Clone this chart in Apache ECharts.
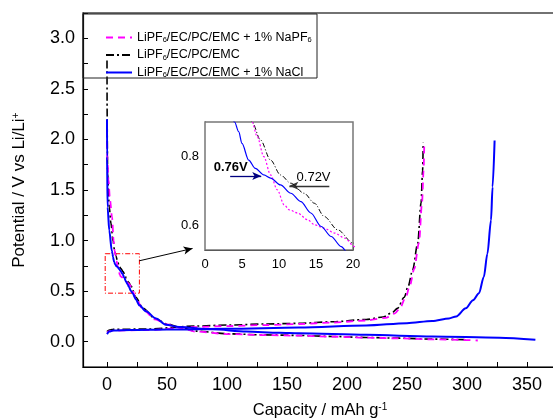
<!DOCTYPE html>
<html><head><meta charset="utf-8">
<script src="https://cdn.jsdelivr.net/npm/echarts@6/dist/echarts.min.js"></script>
<style>html,body{margin:0;padding:0;background:#fff}#c{width:553px;height:418px}</style>
</head><body><div id="c"></div>
<script>
// ---- data ----
const seriesNames = ['LiPF6/EC/PC/EMC + 1% NaPF6', 'LiPF6/EC/PC/EMC', 'LiPF6/EC/PC/EMC + 1% NaCl'];
const xLabelValues = [0, 50, 100, 150, 200, 250, 300, 350];
const xTickValues = [0, 25, 50, 75, 100, 125, 150, 175, 200, 225, 250, 275, 300, 325, 350, 375];
const yLabelValues = [0, 0.5, 1.0, 1.5, 2.0, 2.5, 3.0];
const yTickValues = [-0.25, 0, 0.25, 0.5, 0.75, 1.0, 1.25, 1.5, 1.75, 2.0, 2.25, 2.5, 2.75, 3.0, 3.25];
const insetXLabelValues = [0, 5, 10, 15, 20];
const insetXTickValues = [0, 2.5, 5, 7.5, 10, 12.5, 15, 17.5, 20];
const insetYLabelValues = [0.6, 0.8];
const insetYTickValues = [0.6, 0.7, 0.8];

// discharge (lithiation) curves [capacity, potential]
const pinkDischarge = [[0,2.1],[0.3,1.8],[1.2,1.6],[2.5,1.40],[4.2,1.23],[5.5,1.0],[6.36,0.90],[7.05,0.858],[7.95,0.80],[8.86,0.747],[9.77,0.704],[10.7,0.66],[11.4,0.646],[12.5,0.637],[13.9,0.617],[14.8,0.603],[16.1,0.593],[17.5,0.579],[18.9,0.564],[20.2,0.54],[24,0.43],[30,0.32],[40,0.22],[50,0.17],[60,0.14],[74,0.10],[102,0.075],[130,0.066],[160,0.06],[188,0.05],[216,0.04],[243.6,0.033],[271,0.024],[299,0.017],[309,0.012]];
const blackDischarge = [[0,2.78],[0.1,2.3],[0.3,1.9],[0.5,1.66],[1.9,1.33],[3.3,1.17],[5.0,1.0],[6.36,0.90],[7.5,0.848],[8.86,0.79],[10.2,0.747],[11.6,0.723],[13.4,0.694],[14.8,0.665],[16.1,0.627],[17.95,0.588],[20,0.55],[24,0.44],[30,0.33],[40,0.23],[50,0.175],[60,0.145],[74,0.105],[102,0.078],[130,0.068],[160,0.062],[188,0.052],[216,0.042],[243.6,0.035],[271,0.026],[299,0.02]];
const blueDischarge = [[0,2.2],[0.05,1.83],[0.5,1.33],[1.9,1.10],[4.0,0.90],[4.55,0.872],[5.0,0.838],[5.9,0.79],[6.8,0.766],[7.95,0.747],[8.86,0.738],[10.2,0.718],[11.6,0.694],[12.95,0.67],[14.3,0.637],[15.7,0.598],[17.05,0.569],[18.4,0.54],[19.8,0.505],[21.3,0.48],[24,0.42],[27,0.36],[32.5,0.30],[40.8,0.23],[49,0.168],[60,0.145],[88,0.122],[116,0.10],[143.6,0.088],[160,0.083],[216,0.068],[271,0.052],[327,0.04],[357,0.02]];
// charge (delithiation) curves
const pinkCharge = [[0,0.09],[2,0.105],[5,0.11],[32.5,0.115],[74,0.145],[102,0.155],[132,0.165],[160,0.175],[188,0.19],[216,0.21],[232,0.235],[240,0.28],[244,0.33],[249,0.44],[252.5,0.56],[256,0.72],[260,0.98],[262.5,1.37],[263.8,1.69],[264.4,1.97]];
const blackCharge = [[0,0.10],[2,0.115],[5,0.122],[32.5,0.125],[74,0.155],[102,0.165],[132,0.175],[160,0.182],[188,0.197],[216,0.22],[230,0.245],[238,0.29],[242,0.33],[247.7,0.44],[251,0.55],[254.7,0.71],[258.9,0.97],[261.7,1.37],[263,1.69],[263.5,1.97]];
const blueCharge = [[0,0.075],[2,0.10],[5,0.11],[20,0.115],[50,0.12],[100,0.127],[160,0.14],[216,0.16],[250,0.183],[271,0.205],[285,0.23],[291,0.25],[299,0.33],[305,0.41],[310,0.48],[314,0.64],[317,0.87],[320,1.2],[321.3,1.53],[323,1.99]];

// annotations (data coords)
const zoomBox = [[-1.5, 0.87], [27, 0.48]];
const zoomArrow = [[26.9, 0.80], [71.3, 0.922]];
const arrow076 = [[3.4, 0.744], [7.6, 0.744]];
const arrow072 = [[16.8, 0.7155], [11.4, 0.7155]];
const text076 = [3.48, 0.770];
const text072 = [14.67, 0.7386];

// ---- chart ----
const FONT = 'Liberation Sans, Arial, sans-serif';
const chart = echarts.init(document.getElementById('c'), null, {renderer: 'canvas'});

const pink = '#ff00ff', black = '#000000', blue = '#0000ff';
const mainStyle = {
  [seriesNames[0]]: {color: pink, width: 1.8, type: [7, 5]},
  [seriesNames[1]]: {color: black, width: 1.6, type: [8, 3, 2, 3]},
  [seriesNames[2]]: {color: blue, width: 2, type: 'solid'}
};
const insetStyle = {
  [seriesNames[0]]: {color: pink, width: 1.2, type: [2, 2]},
  [seriesNames[1]]: {color: black, width: 1, type: [5, 2, 1, 2]},
  [seriesNames[2]]: {color: blue, width: 1.2, type: 'solid'}
};

function mainSeries(name, data, extra) {
  return Object.assign({
    type: 'line', name: name, data: data, symbol: 'none', smooth: 0.3, smoothMonotone: 'x',
    xAxisIndex: 0, yAxisIndex: 0, lineStyle: mainStyle[name], itemStyle: {color: mainStyle[name].color},
    animation: false, z: 3
  }, extra || {});
}
function insetSeries(name, data, extra) {
  return Object.assign({
    type: 'line', name: 'inset ' + name, data: data, symbol: 'none', smooth: 0.3, smoothMonotone: 'x',
    xAxisIndex: 1, yAxisIndex: 1, clip: true, lineStyle: insetStyle[name], itemStyle: {color: insetStyle[name].color},
    animation: false, z: 5
  }, extra || {});
}

const axisLabelStyle = {fontFamily: FONT, fontSize: 18, color: '#000'};

const option = {
  animation: false,
  backgroundColor: '#fff',
  grid: [
    {left: 83, top: 13, width: 474, height: 354, show: true, borderColor: '#444', borderWidth: 1.5, outerBoundsMode: 'none', containLabel: false},
    {left: 205, top: 122, width: 148, height: 128, show: true, borderColor: '#777', borderWidth: 1.5, backgroundColor: '#fff', z: 4, outerBoundsMode: 'none', containLabel: false}
  ],
  legend: {
    data: seriesNames,
    orient: 'vertical', left: 105, top: 31, padding: 0,
    itemWidth: 26, itemHeight: 14, itemGap: 4.5,
    itemStyle: {opacity: 0},
    textStyle: {fontFamily: FONT, fontSize: 12.5, color: '#000',
      rich: {s: {fontFamily: FONT, fontSize: 7.5, color: '#000', verticalAlign: 'bottom'}}},
    formatter: function (n) { return n.replace(/PF6/g, 'PF{s|6}'); }
  },
  xAxis: [
    {type: 'value', gridIndex: 0, min: -20, max: 375,
      name: 'Capacity / mAh g{sup|-1}', nameLocation: 'middle', nameGap: 35,
      nameTextStyle: {fontFamily: FONT, fontSize: 16.5, color: '#000', rich: {sup: {fontFamily: FONT, fontSize: 10, color: '#000', verticalAlign: 'top'}}},
      axisLine: {show: true, onZero: false, lineStyle: {color: '#000', width: 1.2}},
      axisTick: {show: true, inside: true, length: 5, customValues: xTickValues, lineStyle: {color: '#000', width: 1}},
      axisLabel: Object.assign({margin: 9, customValues: xLabelValues}, axisLabelStyle),
      splitLine: {show: false}},
    {type: 'value', gridIndex: 1, min: 0, max: 20,
      axisLine: {show: true, onZero: false, lineStyle: {color: '#000', width: 1}},
      axisTick: {show: true, inside: true, length: 3, customValues: insetXTickValues, lineStyle: {color: '#000'}},
      axisLabel: {margin: 8, customValues: insetXLabelValues, fontFamily: FONT, fontSize: 13, color: '#000'},
      splitLine: {show: false}}
  ],
  yAxis: [
    {type: 'value', gridIndex: 0, min: -0.25, max: 3.25,
      name: 'Potential / V vs Li/Li{sup|+}', nameLocation: 'middle', nameGap: 55,
      nameTextStyle: {fontFamily: FONT, fontSize: 17, color: '#000', rich: {sup: {fontFamily: FONT, fontSize: 10.5, color: '#000', verticalAlign: 'top'}}},
      axisLine: {show: true, onZero: false, lineStyle: {color: '#000', width: 1.2}},
      axisTick: {show: true, inside: true, length: 5, customValues: yTickValues, lineStyle: {color: '#000', width: 1}},
      axisLabel: Object.assign({margin: 8, customValues: yLabelValues, formatter: v => v.toFixed(1)}, axisLabelStyle),
      splitLine: {show: false}},
    {type: 'value', gridIndex: 1, min: 0.53, max: 0.9,
      axisLine: {show: true, onZero: false, lineStyle: {color: '#000', width: 1}},
      axisTick: {show: true, inside: true, length: 3, customValues: insetYTickValues, lineStyle: {color: '#000'}},
      axisLabel: {margin: 6, customValues: insetYLabelValues, formatter: v => v.toFixed(1), fontFamily: FONT, fontSize: 13, color: '#000'},
      splitLine: {show: false}}
  ],
  series: [
    mainSeries(seriesNames[1], blackDischarge),
    mainSeries(seriesNames[1], blackCharge),
    mainSeries(seriesNames[0], pinkDischarge),
    mainSeries(seriesNames[0], pinkCharge),
    mainSeries(seriesNames[2], blueCharge),
    mainSeries(seriesNames[2], blueDischarge, {
      markArea: {silent: true, itemStyle: {color: 'rgba(0,0,0,0)', borderColor: '#ff0000', borderWidth: 1, borderType: [5, 2, 1, 2]},
        data: [[{coord: zoomBox[0]}, {coord: zoomBox[1]}]]},
      markLine: {silent: true, symbol: ['none', 'arrow'], symbolSize: [6, 9], label: {show: false},
        lineStyle: {color: '#000', width: 1, type: 'solid'},
        data: [[{coord: zoomArrow[0]}, {coord: zoomArrow[1]}]]}
    }),
    insetSeries(seriesNames[1], blackDischarge),
    insetSeries(seriesNames[0], pinkDischarge),
    insetSeries(seriesNames[2], blueDischarge, {
      markLine: {silent: true, symbol: ['none', 'arrow'], symbolSize: [6, 9], label: {show: false},
        data: [
          [{coord: arrow076[0], lineStyle: {color: '#000080', width: 1.3, type: 'solid'}}, {coord: arrow076[1]}],
          [{coord: arrow072[0], lineStyle: {color: '#333', width: 1.3, type: 'solid'}}, {coord: arrow072[1]}]
        ]}
    })
  ]
};
chart.setOption(option);

const p76 = chart.convertToPixel({gridIndex: 1}, text076);
const p72 = chart.convertToPixel({gridIndex: 1}, text072);
chart.setOption({
  graphic: [
    {type: 'rect', shape: {x: 83, y: 14, width: 234, height: 64}, style: {fill: 'none', stroke: '#222', lineWidth: 1}, z: 10, silent: true},
    {type: 'text', x: p76[0], y: p76[1], style: {text: '0.76V', font: 'bold 13px ' + FONT, fill: '#000', align: 'center', verticalAlign: 'middle'}, z: 10},
    {type: 'text', x: p72[0], y: p72[1], style: {text: '0.72V', font: '13px ' + FONT, fill: '#000', align: 'center', verticalAlign: 'middle'}, z: 10}
  ]
});
</script></body></html>
